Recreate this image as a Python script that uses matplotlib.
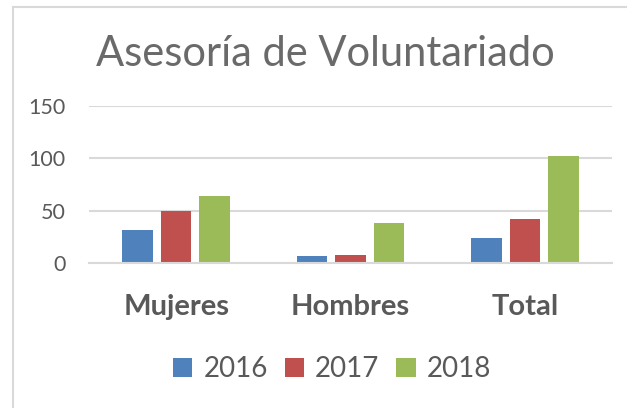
import matplotlib
matplotlib.use("Agg")
import matplotlib.pyplot as plt
import numpy as np
from matplotlib.lines import Line2D
from matplotlib.patches import Patch

categories = ["Mujeres", "Hombres", "Total"]
years = ["2016", "2017", "2018"]
v2016 = [32, 7, 24]
v2017 = [50, 8, 42]
v2018 = [64, 38, 102]
yticks = [0, 50, 100, 150]

colors = ["#4f81bd", "#c0504d", "#9bbb59"]
textc = "#595959"
gridc = "#d9d9d9"

W, H = 627, 408
fig = plt.figure(figsize=(W / 100, H / 100), dpi=100)

def fx(px):
    return px / W

def fy(py):
    return 1 - py / H

# chart border (top and left only visible)
fig.add_artist(Line2D([fx(12.5), fx(12.5)], [fy(7), 0], color="#d9d9d9", lw=1.5, transform=fig.transFigure))
fig.add_artist(Line2D([fx(12.5), 1], [fy(7), fy(7)], color="#d9d9d9", lw=1.5, transform=fig.transFigure))

ax = fig.add_axes([fx(89), fy(263), fx(612) - fx(89), fy(106) - fy(263)])
x = np.arange(len(categories))
bw = 0.175
off = 0.221
for i, (vals, c, yr) in enumerate(zip([v2016, v2017, v2018], colors, years)):
    ax.bar(x + (i - 1) * off, vals, width=bw, color=c, label=yr, zorder=3)

ax.set_xlim(-0.5, len(categories) - 0.5)
ax.set_ylim(0, 150)
ax.set_yticks(yticks)
ax.set_yticklabels([str(t) for t in yticks], fontsize=15.5, color=textc, family="Lato")
ax.set_xticks(x)
ax.set_xticklabels(categories, fontsize=21, fontweight="bold", color=textc, family="Lato")
ax.tick_params(axis="y", length=0, pad=17)
ax.tick_params(axis="x", length=0, pad=22)
ax.grid(axis="y", color=gridc, lw=1.5, zorder=0)
for s in ["top", "right", "left"]:
    ax.spines[s].set_visible(False)
ax.spines["bottom"].set_color(gridc)
ax.spines["bottom"].set_linewidth(1.5)
ax.spines["bottom"].set_zorder(4)

fig.text(fx(325), fy(54), "Asesoría de Voluntariado", ha="center", va="center",
         fontsize=30, color="#6a6a6a", family="Lato", fontweight="normal")

handles = [Patch(facecolor=c, edgecolor="none") for c in colors]
leg = fig.legend(handles, years, loc="center", bbox_to_anchor=(fx(332), fy(369)),
                 ncol=3, frameon=False, fontsize=20, handlelength=0.7, handleheight=0.7,
                 handletextpad=0.4, columnspacing=0.6)
for t in leg.get_texts():
    t.set_color(textc)
    t.set_family("Lato")

fig.savefig("out.png", dpi=100)
